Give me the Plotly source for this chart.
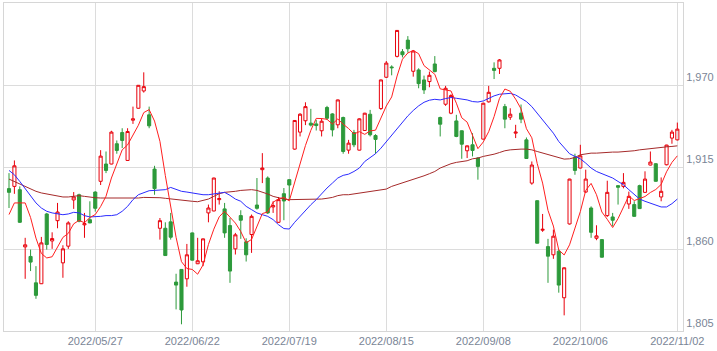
import plotly.graph_objects as go

# ---- data ----
open_ = [1900.5,1902.0,1899.8,1861.4,1855.0,1837.3,1836.7,1883.5,1865.4,1879.0,
         1850.7,1861.9,1892.9,1896.4,1876.2,1879.7,1898.2,1905.4,1917.0,1917.0,
         1930.6,1938.1,1919.4,1946.4,1954.4,1966.0,1950.0,1913.6,1873.9,1873.9,
         1878.2,1837.8,1846.3,1840.0,1870.8,1850.1,1851.4,1884.2,1885.5,1893.1,
         1886.9,1875.7,1860.1,1882.4,1864.8,1869.7,1889.5,1913.2,1907.6,1888.2,
         1877.9,1897.1,1906.5,1927.0,1938.4,1946.0,1944.4,1943.9,1939.3,1954.9,
         1950.6,1943.3,1948.2,1926.3,1938.1,1926.3,1939.5,1950.4,1936.1,1954.2,
         1975.2,1982.1,1989.2,1992.3,2000.1,1979.2,1980.1,1973.4,1972.3,1984.1,
         1948.2,1957.1,1951.1,1945.9,1939.3,1925.9,1929.9,1921.0,1933.7,1958.7,
         1981.2,1981.2,1955.5,1948.4,1937.7,1951.1,1933.2,1904.2,1892.4,1872.6,
         1861.6,1856.1,1858.5,1827.3,1876.8,1921.6,1914.3,1898.2,1887.5,1867.2,
         1866.3,1882.4,1881.5,1902.5,1902.0,1890.2,1889.8,1902.5,1898.0,1916.3,
         1917.2,1894.9,1916.5,1934.4,1933.2]
high = [1910.9,1919.4,1902.0,1867.5,1859.6,1848.5,1868.1,1884.2,1871.2,1890.9,
        1862.5,1878.6,1898.2,1897.1,1884.2,1892.0,1898.7,1926.3,1925.4,1939.3,
        1932.8,1941.0,1941.0,1955.5,1970.0,1978.5,1955.5,1915.8,1880.8,1877.9,
        1884.2,1843.4,1846.5,1863.4,1871.0,1867.5,1867.0,1889.8,1907.8,1898.7,
        1890.9,1880.8,1870.8,1886.0,1867.2,1883.1,1907.6,1924.3,1908.7,1892.0,
        1894.9,1900.9,1906.7,1946.4,1951.1,1958.4,1954.0,1946.6,1947.7,1956.0,
        1951.1,1960.2,1948.8,1933.2,1939.9,1947.7,1951.3,1953.3,1937.0,1973.6,
        1986.1,1983.2,2006.8,1994.1,2002.8,1993.4,1981.2,1976.3,1979.0,1989.4,
        1948.8,1969.4,1963.8,1950.0,1939.5,1929.4,1937.7,1921.6,1958.0,1969.4,
        1985.2,1987.4,1957.3,1954.4,1943.3,1956.9,1934.8,1918.7,1892.6,1883.5,
        1866.8,1873.0,1859.6,1847.6,1907.1,1923.9,1929.9,1913.2,1888.6,1875.9,
        1866.5,1905.8,1884.2,1902.7,1910.9,1898.5,1892.0,1903.1,1912.1,1925.4,
        1917.6,1908.0,1929.9,1939.9,1944.8]
low = [1887.5,1897.0,1877.5,1840.0,1845.2,1826.6,1836.5,1859.6,1860.1,1873.9,
       1840.7,1860.1,1886.9,1877.9,1867.5,1877.3,1885.1,1902.9,1910.9,1916.8,
       1923.9,1927.7,1919.2,1943.9,1954.2,1964.9,1941.0,1896.4,1866.3,1855.4,
       1866.3,1819.5,1809.5,1834.7,1852.3,1849.9,1848.5,1877.9,1885.3,1889.8,
       1867.5,1837.3,1856.3,1866.8,1851.6,1857.4,1886.4,1904.2,1883.5,1884.2,
       1877.5,1879.3,1893.1,1926.6,1935.5,1943.1,1942.2,1939.5,1935.5,1946.6,
       1935.5,1941.0,1923.9,1923.9,1928.3,1926.1,1939.3,1935.5,1923.9,1953.3,
       1974.7,1976.5,1988.5,1988.5,1991.7,1975.6,1967.8,1964.0,1968.5,1978.5,
       1935.5,1956.0,1950.4,1935.0,1920.5,1921.0,1922.1,1906.5,1933.5,1958.2,
       1974.0,1977.4,1941.0,1946.6,1934.4,1944.4,1920.5,1903.1,1863.7,1871.5,
       1837.3,1853.4,1830.7,1815.5,1876.4,1909.8,1914.1,1897.6,1867.5,1865.9,
       1854.3,1881.5,1875.3,1889.8,1900.7,1886.9,1881.7,1886.9,1897.6,1916.1,
       1905.2,1892.0,1916.1,1930.6,1932.8]
close = [1898.0,1915.8,1877.9,1862.8,1851.2,1828.9,1864.1,1863.0,1867.0,1884.8,
         1860.1,1877.5,1894.9,1878.6,1877.0,1877.5,1887.3,1922.3,1912.7,1938.4,
         1926.1,1932.8,1938.8,1947.3,1969.8,1968.9,1942.6,1900.5,1879.0,1855.6,
         1867.9,1835.8,1819.1,1856.1,1852.5,1852.1,1866.8,1887.5,1907.6,1893.8,
         1870.8,1845.2,1869.5,1879.3,1856.1,1881.9,1887.3,1914.3,1884.2,1889.1,
         1893.1,1892.2,1902.9,1946.2,1950.4,1955.5,1943.1,1942.8,1945.7,1947.7,
         1939.9,1960.0,1925.4,1931.0,1929.9,1947.3,1951.1,1936.6,1933.5,1973.4,
         1984.7,1981.6,2006.6,1990.3,1994.3,1992.8,1970.9,1966.7,1976.5,1979.0,
         1943.7,1967.8,1962.9,1935.5,1930.3,1929.2,1926.1,1915.4,1957.8,1965.1,
         1979.8,1986.8,1947.1,1950.4,1938.4,1947.1,1920.7,1916.3,1863.9,1873.2,
         1855.2,1868.6,1835.8,1847.4,1906.9,1912.7,1922.5,1906.9,1871.2,1868.8,
         1854.5,1898.0,1879.3,1901.4,1904.7,1895.3,1881.9,1887.1,1906.9,1918.3,
         1905.4,1898.7,1929.7,1938.4,1940.4]
ma_short = [1883.1,1890.9,1890.9,1890.9,1881.1,1867.3,1857.0,1854.0,1854.8,1861.6,
            1867.8,1870.5,1876.9,1879.2,1877.6,1881.1,1883.1,1888.5,1895.4,1907.6,
            1917.4,1926.5,1929.8,1936.7,1943.0,1951.5,1953.5,1945.8,1932.2,1909.3,
            1889.1,1867.8,1851.5,1846.9,1846.3,1843.1,1849.3,1863.0,1873.3,1881.6,
            1885.3,1881.0,1877.4,1871.7,1864.2,1866.4,1874.8,1883.8,1884.8,1891.4,
            1893.6,1894.6,1892.3,1904.7,1917.0,1929.4,1939.6,1947.6,1947.5,1947.0,
            1943.8,1947.2,1943.7,1940.8,1937.2,1938.7,1936.9,1939.2,1939.7,1948.4,
            1955.9,1962.0,1976.0,1987.3,1991.5,1993.1,1991.0,1983.0,1980.2,1977.2,
            1967.4,1966.7,1966.0,1957.8,1948.0,1945.1,1936.8,1927.3,1931.8,1938.7,
            1948.8,1961.0,1967.3,1965.8,1960.5,1954.0,1940.7,1934.6,1917.3,1904.2,
            1885.9,1875.4,1859.3,1856.0,1862.8,1874.3,1885.1,1899.3,1904.0,1896.4,
            1884.8,1879.9,1874.4,1880.4,1887.6,1895.7,1892.5,1894.1,1895.2,1897.9,
            1899.9,1903.3,1911.8,1918.1,1922.5]
ma_mid = [1912.7,1909.8,1905.3,1900.4,1895.3,1890.9,1887.5,1885.3,1884.2,1883.7,
          1883.0,1883.5,1884.6,1884.2,1882.4,1881.5,1881.5,1881.9,1882.4,1882.4,
          1883.0,1885.3,1888.6,1893.1,1896.4,1898.0,1899.1,1899.3,1899.3,1899.8,
          1901.3,1899.8,1898.7,1898.2,1897.6,1896.9,1896.4,1896.4,1897.1,1897.6,
          1898.0,1896.0,1893.5,1892.0,1888.6,1886.4,1884.2,1883.0,1881.9,1879.7,
          1876.3,1873.7,1873.4,1877.9,1881.9,1885.9,1889.7,1893.1,1897.1,1900.9,
          1904.2,1907.6,1909.4,1910.2,1912.0,1914.3,1918.7,1921.6,1923.9,1927.6,
          1932.1,1936.6,1940.4,1944.8,1949.3,1952.9,1956.0,1958.4,1959.8,1960.4,
          1960.0,1960.9,1961.6,1961.1,1960.7,1960.0,1958.9,1958.6,1959.3,1961.1,
          1962.7,1963.8,1964.0,1964.4,1963.3,1961.1,1958.9,1955.5,1951.1,1946.6,
          1942.1,1937.7,1932.1,1927.6,1923.9,1922.1,1920.5,1917.6,1914.3,1912.0,
          1910.5,1908.7,1907.6,1905.3,1903.1,1899.8,1896.4,1893.5,1892.0,1890.9,
          1889.7,1888.2,1888.2,1890.4,1893.5]
ma_long = [1906.9,1905.3,1903.6,1902.0,1900.2,1898.7,1897.6,1896.9,1896.0,1895.3,
           1894.9,1894.9,1895.3,1895.8,1895.3,1894.6,1894.4,1894.2,1894.2,1894.2,
           1894.2,1894.0,1893.7,1893.7,1894.2,1894.6,1894.6,1894.6,1894.4,1894.0,
           1893.5,1893.1,1892.6,1892.4,1892.0,1891.7,1892.4,1893.5,1895.3,1897.1,
           1898.0,1898.2,1898.7,1899.3,1899.8,1899.8,1899.3,1898.2,1896.9,1895.3,
           1894.2,1893.5,1893.1,1893.1,1893.1,1893.1,1893.1,1893.1,1893.5,1894.0,
           1894.6,1895.8,1896.4,1896.4,1896.9,1897.6,1898.0,1898.4,1899.3,1899.8,
           1900.2,1902.0,1903.1,1904.7,1905.8,1906.9,1908.0,1909.1,1910.5,1912.0,
           1914.3,1915.8,1917.2,1918.1,1918.7,1919.2,1920.5,1921.0,1922.1,1922.7,
           1923.6,1924.7,1925.9,1926.5,1927.0,1927.0,1927.0,1926.5,1925.4,1924.3,
           1923.2,1922.1,1921.0,1920.3,1920.5,1921.4,1923.2,1923.9,1924.3,1924.3,
           1924.7,1924.7,1925.0,1925.0,1925.2,1925.4,1925.9,1926.5,1927.0,1927.2,
           1927.6,1928.1,1928.5,1928.8,1929.2]
tick_pos = [16, 34, 52, 70, 88, 106, 124]
tick_labels = ["2022/05/27", "2022/06/22", "2022/07/19", "2022/08/15",
               "2022/09/08", "2022/10/06", "2022/11/02"]
y_ticks = [1805, 1860, 1915, 1970]

x = list(range(len(close)))

fig = go.Figure()
fig.add_trace(go.Candlestick(
    x=x, open=open_, high=high, low=low, close=close,
    increasing=dict(line=dict(color="#e8000b", width=1), fillcolor="rgba(255,255,255,0)"),
    decreasing=dict(line=dict(color="#2d9a3b", width=1), fillcolor="#2d9a3b"),
    whiskerwidth=0, showlegend=False, hoverinfo="skip"))
fig.add_trace(go.Scatter(x=x, y=ma_long, mode="lines",
                         line=dict(color="#a52a2a", width=1), showlegend=False, hoverinfo="skip"))
fig.add_trace(go.Scatter(x=x, y=ma_mid, mode="lines",
                         line=dict(color="#2b2bff", width=1), showlegend=False, hoverinfo="skip"))
fig.add_trace(go.Scatter(x=x, y=ma_short, mode="lines",
                         line=dict(color="#ff1f1f", width=1), showlegend=False, hoverinfo="skip"))

fig.update_layout(
    width=717, height=351,
    margin=dict(l=4, r=34, t=3, b=20),
    paper_bgcolor="white", plot_bgcolor="white",
    boxgap=0.18,
    font=dict(family="Liberation Sans, Arial, sans-serif", size=11, color="#7a8596"),
    xaxis=dict(range=[-0.93, 125.05], tickmode="array", tickvals=tick_pos, ticktext=tick_labels,
               showgrid=True, gridcolor="#dcdcdc", gridwidth=1, zeroline=False,
               showline=True, linecolor="#d6d6d6", linewidth=1, mirror=True,
               rangeslider=dict(visible=False), ticks="", tickfont=dict(size=11)),
    yaxis=dict(range=[1805, 2025], side="right", tickmode="array", tickvals=y_ticks,
               tickformat=",d", showgrid=True, gridcolor="#dcdcdc", gridwidth=1,
               zeroline=False, showline=True, linecolor="#d6d6d6", linewidth=1, mirror=True,
               ticks="", ticklabelposition="outside top", tickfont=dict(size=11)),
)

fig.write_html("out.html")
